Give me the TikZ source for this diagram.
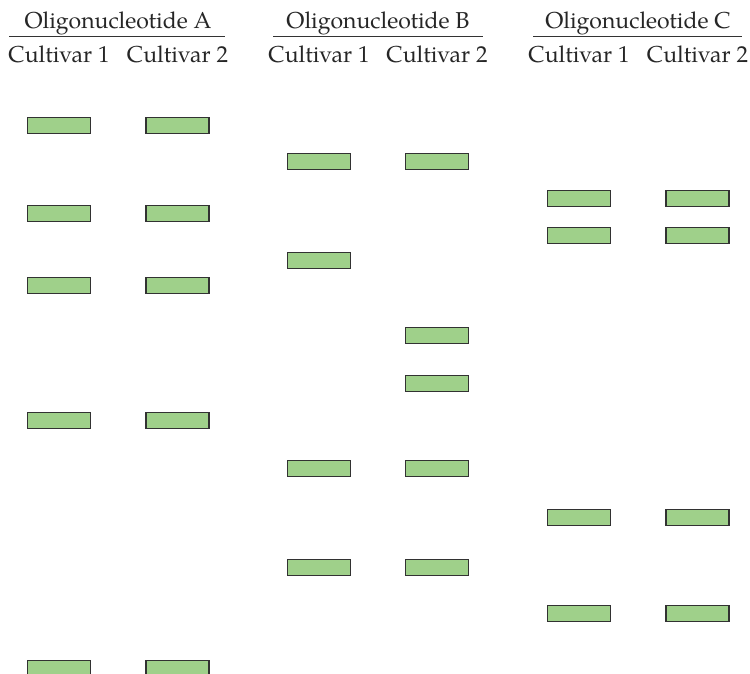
\documentclass[tikz,border=0pt]{standalone}
\usepackage{fontspec}
\setmainfont{TeX Gyre Pagella}
\definecolor{bandgreen}{RGB}{159,208,138}
\definecolor{bandedge}{RGB}{50,50,50}
\tikzset{
  band/.style={draw=bandedge, line width=1.1pt, fill=bandgreen, rectangle,
    minimum width=63pt, minimum height=16pt, inner sep=0pt, outer sep=0pt},
  title/.style={font=\fontsize{23}{26}\selectfont, anchor=base, inner sep=0pt, text=black!85},
  rule/.style={line width=1pt, draw=black!80}
}
\begin{document}
\begin{tikzpicture}[x=1pt,y=-1pt]
\useasboundingbox (0,0) rectangle (750,673);
\clip (0,0) rectangle (750,673);
% headers
\node[title] (tA) at (118,28) {Oligonucleotide A};
\node[title] (tB) at (378,28) {Oligonucleotide B};
\node[title] (tC) at (638,28) {Oligonucleotide C};
\coordinate (lA1) at (9,36);  \coordinate (lA2) at (225,36);
\coordinate (lB1) at (273,36); \coordinate (lB2) at (483,36);
\coordinate (lC1) at (533,36); \coordinate (lC2) at (742,36);
\draw[rule] (lA1) -- (lA2);
\draw[rule] (lB1) -- (lB2);
\draw[rule] (lC1) -- (lC2);
\node[title] (cA1) at (59,62) {Cultivar 1};
\node[title] (cA2) at (177.5,62) {Cultivar 2};
\node[title] (cB1) at (319,62) {Cultivar 1};
\node[title] (cB2) at (437,62) {Cultivar 2};
\node[title] (cC1) at (579,62) {Cultivar 1};
\node[title] (cC2) at (697.5,62) {Cultivar 2};
% Oligonucleotide A
\foreach \y [count=\i] in {117,205,277,412,660}{
  \node[band] (a1-\i) at (59,\y+8.25) {};
  \node[band] (a2-\i) at (177.5,\y+8.25) {};
}
% Oligonucleotide B
\foreach \y [count=\i] in {153,252,460.5,559.5}{
  \node[band] (b1-\i) at (319,\y+8.25) {};
}
\foreach \y [count=\i] in {153,327,375,460.5,559.5}{
  \node[band] (b2-\i) at (437,\y+8.25) {};
}
% Oligonucleotide C
\foreach \y [count=\i] in {190,227,509,605.5}{
  \node[band] (c1-\i) at (579,\y+8.25) {};
  \node[band] (c2-\i) at (697.5,\y+8.25) {};
}
\end{tikzpicture}
\end{document}
